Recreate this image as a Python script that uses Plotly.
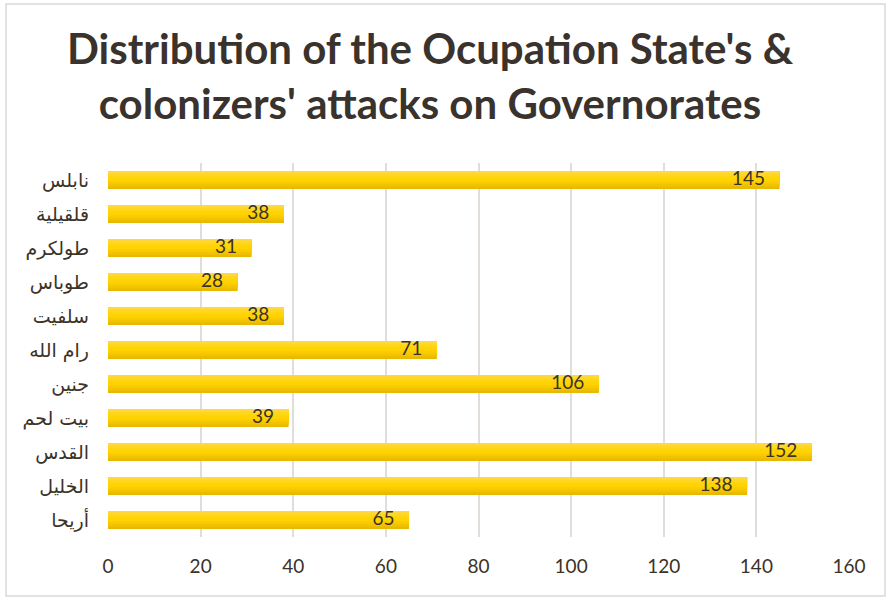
import plotly.graph_objects as go

# Governorates, bottom to top as drawn on the category axis
governorates = ["أريحا", "الخليل", "القدس", "بيت لحم", "جنين", "رام الله",
                "سلفيت", "طوباس", "طولكرم", "قلقيلية", "نابلس"]
attacks = [65, 138, 152, 39, 106, 71, 38, 28, 31, 38, 145]
x_ticks = [0, 20, 40, 60, 80, 100, 120, 140, 160]

W, H = 887, 599
L, R, T, B = 108, 38, 163, 62
pw, ph = W - L - R, H - T - B

BAR_W = 0.53
# vertical shading of each bar, from the deeper gold bottom to the lighter top
bands = ["#E9B900", "#F2C400", "#F9CC00", "#FFD200", "#FFD40A", "#FFD623", "#FFD93C"]

fig = go.Figure()
n = len(bands)
bw = BAR_W / n
for i, c in enumerate(bands):
    # each band runs from its own start up to the top edge, so layers overlap with no seams
    fig.add_trace(go.Bar(
        y=governorates, x=attacks, orientation="h",
        width=BAR_W - i * bw, offset=-BAR_W / 2 + i * bw,
        marker=dict(color=c, line=dict(width=0)),
        hoverinfo="skip", showlegend=False,
    ))

# value labels, right-aligned inside the end of each bar
fig.add_trace(go.Scatter(
    y=governorates, x=attacks, mode="text",
    text=[f"{v}\u00a0\u00a0\u00a0" for v in attacks],
    textposition="middle left",
    textfont=dict(family="Lato, 'Open Sans', sans-serif", size=19, color="#3b3228"),
    hoverinfo="skip", showlegend=False,
))

fig.update_layout(
    width=W, height=H,
    margin=dict(l=L, r=R, t=T, b=B),
    paper_bgcolor="white", plot_bgcolor="white",
    barmode="overlay",
    title=dict(
        text="Distribution of the Ocupation State's &<br>colonizers' attacks on Governorates",
        font=dict(family="Lato, 'Open Sans', sans-serif", size=42, color="#3a322c",
                  weight="bold"),
        xref="container", yref="container",
        x=430 / W, xanchor="center", y=1 - 64 / H, yanchor="middle",
    ),
    xaxis=dict(
        range=[0, 160], tickvals=x_ticks, showgrid=True,
        gridcolor="#e2ddd9", gridwidth=1.5, zeroline=False, showline=False,
        tickfont=dict(family="Lato, 'Open Sans', sans-serif", size=19, color="#3b3228"),
        ticklabelstandoff=16,
    ),
    yaxis=dict(
        type="category", categoryorder="array", categoryarray=governorates,
        showgrid=False, zeroline=False, showline=False,
        tickfont=dict(family="'DejaVu Sans', sans-serif", size=19, color="#3b3228"),
        ticklabelstandoff=18,
        range=[-0.5, len(governorates) - 0.5],
    ),
    shapes=[dict(
        type="rect", xref="paper", yref="paper",
        x0=(6 - L) / pw, x1=(885 - L) / pw,
        y0=(H - B - 596) / ph, y1=(H - B - 4) / ph,
        line=dict(color="#d9d9d9", width=1.5), fillcolor="rgba(0,0,0,0)", layer="below",
    )],
)

fig.write_html("out.html")
